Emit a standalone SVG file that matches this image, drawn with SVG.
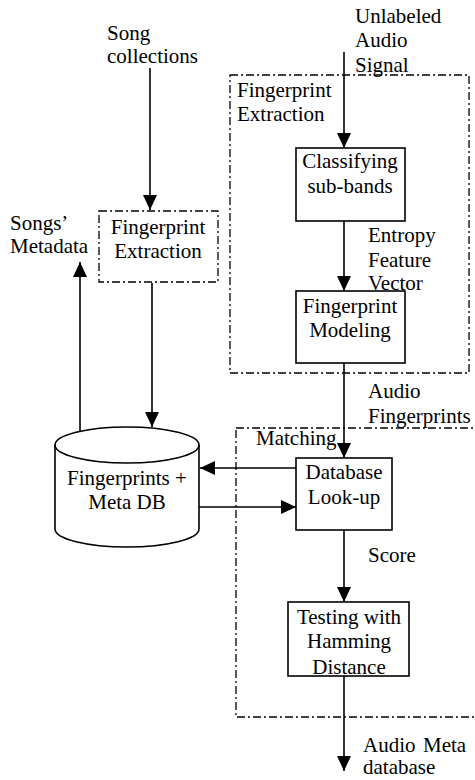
<svg xmlns="http://www.w3.org/2000/svg" width="475" height="780" viewBox="0 0 475 780">
<style>
text{font-family:"Liberation Serif","Times New Roman",serif;font-size:21px;fill:#000}
.c{text-anchor:middle}
.box{fill:#fff;stroke:#000;stroke-width:1.6}
.dd{fill:none;stroke:#000;stroke-width:1.3;stroke-dasharray:8,3,2,3}
.ln{fill:none;stroke:#000;stroke-width:1.6}
</style>
<defs>
<marker id="ah" markerUnits="userSpaceOnUse" markerWidth="15" markerHeight="14" viewBox="0 0 15 14" refX="15" refY="7" orient="auto">
<path d="M0,0 L15,7 L0,14 z" fill="#000"/>
</marker>
</defs>
<rect width="475" height="780" fill="#fff"/>

<g id="group-extraction">
<rect class="dd" x="230" y="75" width="239" height="298"/>
<text x="237" y="97">Fingerprint</text>
<text x="237" y="121">Extraction</text>
</g>
<g id="group-matching">
<rect class="dd" x="236" y="428" width="260" height="289"/>
<text x="256" y="445">Matching</text>
</g>

<g id="connectors">
<line class="ln" x1="150" y1="68" x2="150" y2="210" marker-end="url(#ah)"/>
<line class="ln" x1="344" y1="52" x2="344" y2="148" marker-end="url(#ah)"/>
<line class="ln" x1="344" y1="221" x2="344" y2="291" marker-end="url(#ah)"/>
<line class="ln" x1="344" y1="363" x2="344" y2="458" marker-end="url(#ah)"/>
<line class="ln" x1="344" y1="530" x2="344" y2="602" marker-end="url(#ah)"/>
<line class="ln" x1="344" y1="676" x2="344" y2="771" marker-end="url(#ah)"/>
<line class="ln" x1="80" y1="431" x2="80" y2="262" marker-end="url(#ah)"/>
<line class="ln" x1="152" y1="283" x2="152" y2="427" marker-end="url(#ah)"/>
<line class="ln" x1="296" y1="468" x2="200" y2="468" marker-end="url(#ah)"/>
<line class="ln" x1="199" y1="507" x2="296" y2="507" marker-end="url(#ah)"/>
</g>

<g id="label-song-collections">
<text x="107" y="40">Song</text>
<text x="107" y="63">collections</text>
</g>
<g id="label-unlabeled">
<text x="355" y="23">Unlabeled</text>
<text x="355" y="47">Audio</text>
<text x="355" y="72">Signal</text>
</g>
<g id="label-songs-metadata">
<text x="10" y="230">Songs’</text>
<text x="10" y="253">Metadata</text>
</g>
<g id="label-entropy">
<text x="368" y="242">Entropy</text>
<text x="368" y="267">Feature</text>
<text x="368" y="290">Vector</text>
</g>
<g id="label-audio-fingerprints">
<text x="368" y="398">Audio</text>
<text x="368" y="423">Fingerprints</text>
</g>
<g id="label-score">
<text x="368" y="562">Score</text>
</g>
<g id="label-audio-meta">
<text x="363" y="752">Audio <tspan x="423">Meta</tspan></text>
<text x="363" y="774">database</text>
</g>

<g id="node-fe-left">
<rect class="dd" x="99" y="211" width="119" height="71"/>
<text class="c" x="158" y="234">Fingerprint</text>
<text class="c" x="158" y="258">Extraction</text>
</g>

<g id="node-classifying">
<rect class="box" x="296" y="148" width="109" height="73"/>
<text class="c" x="350" y="168">Classifying</text>
<text class="c" x="350" y="193">sub-bands</text>
</g>

<g id="node-modeling">
<rect class="box" x="296" y="291" width="109" height="72"/>
<text class="c" x="350" y="313">Fingerprint</text>
<text class="c" x="350" y="337">Modeling</text>
</g>

<g id="node-db">
<path class="box" d="M55,445 L55,529 A72,18 0 0 0 199,529 L199,445 A72,18 0 0 0 55,445 Z"/>
<path class="ln" d="M55,445 A72,18 0 0 0 199,445"/>
<text class="c" x="127" y="485">Fingerprints +</text>
<text class="c" x="127" y="509">Meta DB</text>
</g>

<g id="node-lookup">
<rect class="box" x="296" y="458" width="96" height="72"/>
<text class="c" x="344" y="479">Database</text>
<text class="c" x="344" y="504">Look-up</text>
</g>

<g id="node-testing">
<rect class="box" x="288" y="602" width="121" height="74"/>
<text class="c" x="349" y="624">Testing with</text>
<text class="c" x="349" y="648">Hamming</text>
<text class="c" x="349" y="674">Distance</text>
</g>
</svg>
